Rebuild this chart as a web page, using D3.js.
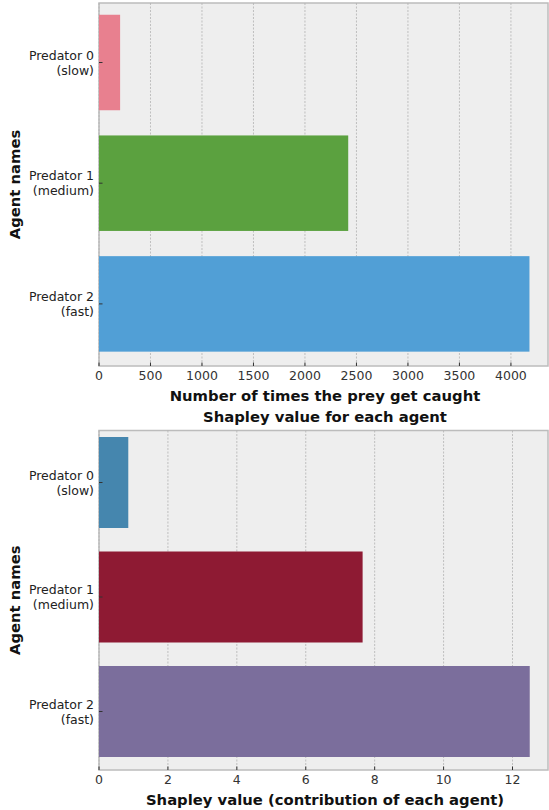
<!DOCTYPE html>
<html><head><meta charset="utf-8">
<script src="https://cdn.jsdelivr.net/npm/d3@7"></script>
<style>body{margin:0;background:#fff}text{font-family:"DejaVu Sans",sans-serif}</style>
</head><body>
<svg id="chart" width="549" height="810"></svg>
<script>
const agents = ["Predator 0\n(slow)", "Predator 1\n(medium)", "Predator 2\n(fast)"];
const caught = [205, 2420, 4180];
const shapley = [0.85, 7.65, 12.5];
const caughtColors = ["#e8808f", "#5ba13f", "#519fd6"];
const shapleyColors = ["#4586ae", "#8e1a33", "#7b6e9c"];
const caughtTicks = [0, 500, 1000, 1500, 2000, 2500, 3000, 3500, 4000];
const shapleyTicks = [0, 2, 4, 6, 8, 10, 12];

const svg = d3.select('#chart');

function panel(top, bottom, first, step, barH, values, colors, xmax, ticks, xLabel) {
    const left = 99, right = 548;
    const x = d3.scaleLinear().domain([0, xmax]).range([left, right]);
    const g = svg.append('g');
    g.append('rect').attr('x', left).attr('y', top).attr('width', right - left).attr('height', bottom - top)
        .attr('fill', '#eeeeee').attr('stroke', '#bcbcbc').attr('stroke-width', 1.5);
    ticks.forEach(t => {
        g.append('line').attr('x1', x(t)).attr('x2', x(t)).attr('y1', top).attr('y2', bottom)
            .attr('stroke', '#b2b2b2').attr('stroke-width', 0.8).attr('stroke-dasharray', '2,1.5');
    });
    values.forEach((v, i) => {
        const cy = first + step * i;
        g.append('rect').attr('x', x(0)).attr('y', cy - barH / 2).attr('width', x(v) - x(0)).attr('height', barH)
            .attr('fill', colors[i]);
        g.append('line').attr('x1', left).attr('x2', left + 3.5).attr('y1', cy).attr('y2', cy).attr('stroke', '#333');
        const lines = agents[i].split('\n');
        lines.forEach((l, j) => {
            g.append('text').attr('x', left - 5).attr('y', cy + (j - 0.5) * 15 + 4.5)
                .attr('text-anchor', 'end').attr('font-size', 12.5).attr('fill', '#222').text(l);
        });
    });
    ticks.forEach(t => {
        g.append('line').attr('x1', x(t)).attr('x2', x(t)).attr('y1', bottom).attr('y2', bottom - 3.5).attr('stroke', '#333');
        g.append('text').attr('x', x(t)).attr('y', bottom + 14).attr('text-anchor', 'middle')
            .attr('font-size', 12.5).attr('fill', '#333').text(t);
    });
    g.append('text').attr('x', 325).attr('y', bottom + 35).attr('text-anchor', 'middle')
        .attr('font-size', 14.8).attr('font-weight', 'bold').attr('fill', '#111').text(xLabel);
    g.append('text').attr('transform', `translate(20,${(top + bottom) / 2}) rotate(-90)`).attr('text-anchor', 'middle')
        .attr('font-size', 14.8).attr('font-weight', 'bold').attr('fill', '#111').text('Agent names');
}

panel(3, 366, 62.5, 120.7, 95.5, caught, caughtColors, 4360, caughtTicks, 'Number of times the prey get caught');
svg.append('text').attr('x', 325).attr('y', 422).attr('text-anchor', 'middle')
    .attr('font-size', 14.8).attr('font-weight', 'bold').attr('fill', '#111').text('Shapley value for each agent');
panel(430.5, 770, 482.5, 114.5, 91, shapley, shapleyColors, 13.03, shapleyTicks, 'Shapley value (contribution of each agent)');
</script>
</body></html>
